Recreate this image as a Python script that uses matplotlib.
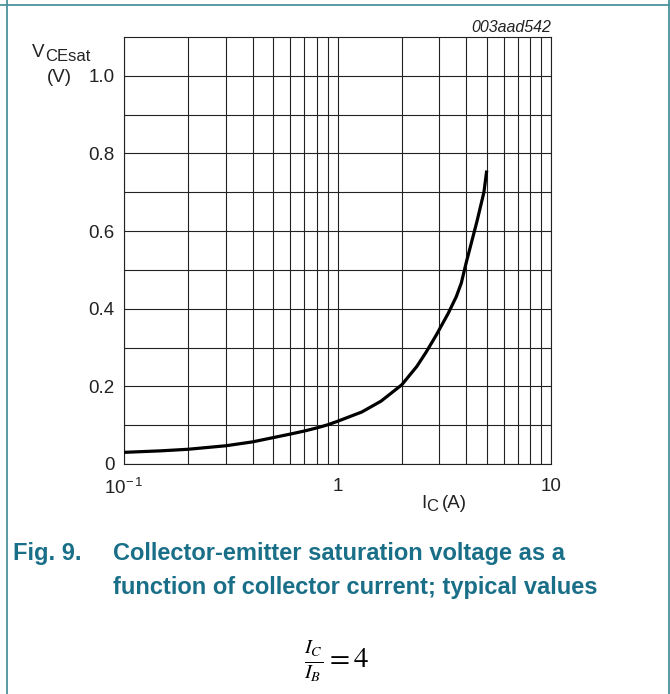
import matplotlib.pyplot as plt
import numpy as np
from matplotlib.lines import Line2D
from matplotlib.ticker import FixedLocator, NullFormatter

plt.rcParams['font.family'] = ['Liberation Sans', 'DejaVu Sans']
plt.rcParams['mathtext.fontset'] = 'stix'

# collector current (A) and saturation voltage (V)
ic = [0.1, 0.15, 0.2, 0.3, 0.4, 0.5, 0.6, 0.7, 0.8, 0.9, 1.0, 1.3, 1.6,
      2.0, 2.35, 2.6, 2.9, 3.3, 3.6, 3.8, 4.0, 4.5, 4.85, 5.0]
vce = [0.030, 0.034, 0.038, 0.047, 0.057, 0.068, 0.077, 0.085, 0.093, 0.101,
       0.110, 0.134, 0.162, 0.204, 0.251, 0.288, 0.332, 0.388, 0.431, 0.466,
       0.517, 0.625, 0.700, 0.756]

yticks = [0, 0.2, 0.4, 0.6, 0.8, 1.0]
ytick_labels = ['0', '0.2', '0.4', '0.6', '0.8', '1.0']
xticks = [0.1, 1, 10]
xtick_labels = [r'$\mathregular{10^{-\,1}}$', '1', '10']

W, H = 670, 694
fig = plt.figure(figsize=(W / 100, H / 100), dpi=100)
ax = fig.add_axes([124 / W, 1 - 464 / H, (551 - 124) / W, (464 - 37) / H])

ax.plot(ic, vce, color='black', lw=2.3, solid_capstyle='butt', zorder=3)
ax.set_xscale('log')
ax.set_xlim(0.1, 10)
ax.set_ylim(0, 1.1)

minor_x = [m * d for d in (0.1, 1) for m in range(2, 10)]
ax.xaxis.set_major_locator(FixedLocator(xticks))
ax.xaxis.set_minor_locator(FixedLocator(minor_x))
ax.xaxis.set_minor_formatter(NullFormatter())
ax.set_xticklabels(xtick_labels)
ax.set_yticks(yticks)
ax.set_yticklabels(ytick_labels)
ax.yaxis.set_minor_locator(FixedLocator(np.arange(0.1, 1.1, 0.2)))

ax.grid(True, which='both', color='#222222', lw=0.8)
ax.tick_params(which='both', length=0, labelsize=13.5, colors='#222222')
ax.tick_params(axis='x', pad=10)
ax.tick_params(axis='y', pad=7)
for s in ax.spines.values():
    s.set_color('#222222')
    s.set_linewidth(0.8)

def fx(px):
    return px / W

def fy(py):
    return 1 - py / H

txt = '#222222'
fig.text(fx(32), fy(57), 'V', fontsize=13.5, color=txt, va='baseline')
fig.text(fx(45), fy(61), 'CEsat', fontsize=12, color=txt, va='baseline')
fig.text(fx(47), fy(82), '(V)', fontsize=13.5, color=txt, va='baseline')
fig.text(fx(421), fy(508), 'I', fontsize=13.5, color=txt, va='baseline')
fig.text(fx(426), fy(511), 'C', fontsize=12, color=txt, va='baseline')
fig.text(fx(442), fy(508), '(A)', fontsize=13.5, color=txt, va='baseline')
fig.text(fx(551), fy(32), '003aad542', fontsize=11.5, style='italic',
         color=txt, ha='right', va='baseline')

cap = '#1a6f88'
fig.text(fx(13), fy(560), 'Fig. 9.', fontsize=17, weight='bold', color=cap,
         va='baseline')
fig.text(fx(113), fy(560), 'Collector-emitter saturation voltage as a',
         fontsize=17, weight='bold', color=cap, va='baseline')
fig.text(fx(113), fy(594), 'function of collector current; typical values',
         fontsize=17, weight='bold', color=cap, va='baseline')
fig.text(fx(337), fy(661), r'$\frac{I_C}{I_B} = 4$', fontsize=21,
         color='black', ha='center', va='center')

border = '#4a929c'
fig.add_artist(Line2D([0, 1], [fy(5), fy(5)], transform=fig.transFigure,
                      color=border, lw=1.3))
fig.add_artist(Line2D([fx(7), fx(7)], [0, 1], transform=fig.transFigure,
                      color=border, lw=1.3))
fig.add_artist(Line2D([fx(668.5), fx(668.5)], [0, 1], transform=fig.transFigure,
                      color=border, lw=1.3))

fig.savefig('out.png', dpi=100)
